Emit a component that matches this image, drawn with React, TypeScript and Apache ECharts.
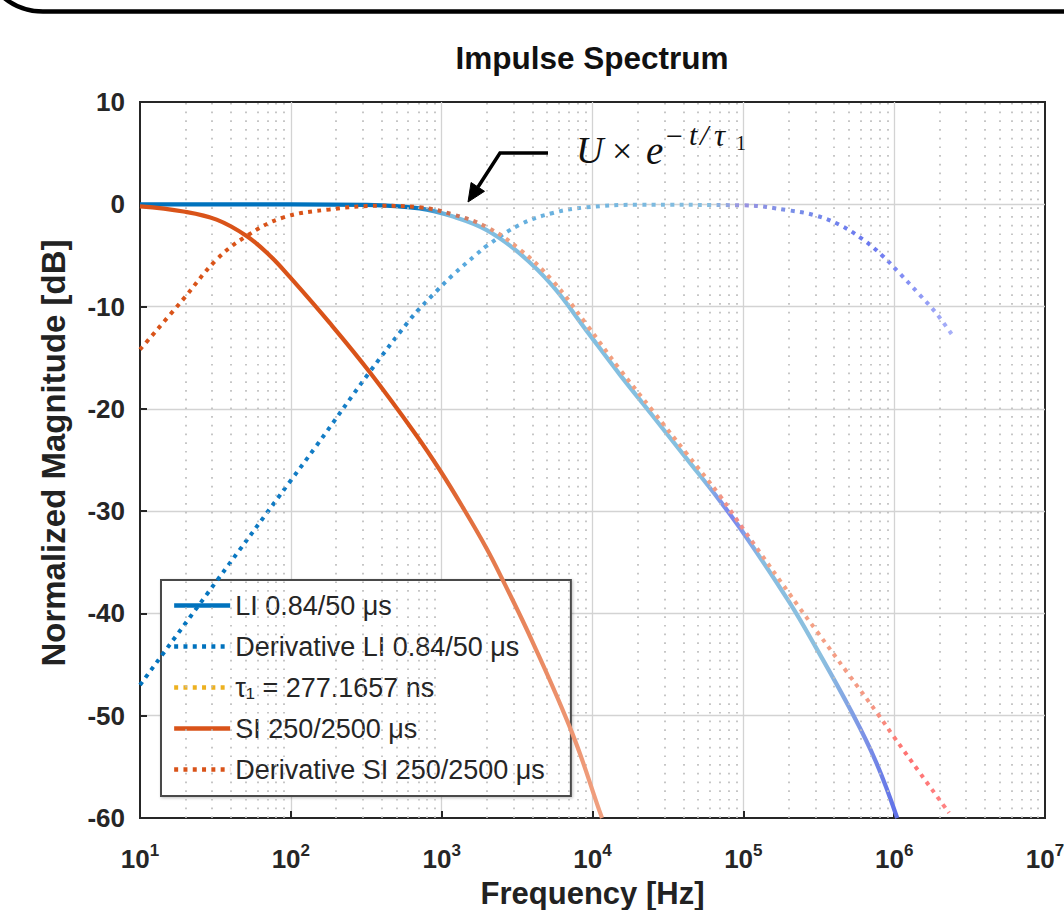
import React, { useEffect, useRef } from "react";
import * as echarts from "echarts";

// ---------- data ----------
const liFreq = [10, 100, 320, 714, 1189, 1977, 3289, 5458, 9078, 15100, 25120, 41690, 69180, 104200, 201800, 302000, 516400, 756800, 1047000];
const liMag = [0, 0, -0.05, -0.4, -1.2, -2.5, -4.8, -8.0, -12.3, -16.6, -20.7, -24.8, -28.9, -32.5, -38.9, -43.3, -49.5, -54.5, -60];

const dLiFreq = [10, 31.6, 100, 148, 333, 614, 714, 923, 1189, 1698, 1977, 3289, 5458, 9078, 19950, 100000, 201800, 302000, 432500, 616600, 831800, 1079000, 1466000, 1888000, 2432000];
const dLiMag = [-47, -37, -27, -23.6, -16.4, -11.3, -10.2, -8.5, -6.9, -4.9, -4.1, -2.0, -0.85, -0.3, -0.05, -0.1, -0.6, -1.1, -2.0, -3.4, -5.0, -6.7, -8.8, -10.6, -12.8];

const tauFreq = [10, 1000, 100000];
const tauMag = [0, 0, 0];

const siFreq = [10, 19.4, 32.2, 50.9, 72.4, 98.4, 181, 333, 681, 984, 1377, 1977, 2495, 3981, 7379, 11120, 11560];
const siMag = [-0.2, -0.7, -1.5, -3.1, -5.0, -7.1, -11.6, -16.4, -22.6, -26.1, -29.6, -33.6, -36.5, -42.7, -51.8, -59.3, -60];

const dSiFreq = [10, 19.3, 32.2, 50.9, 88.5, 181, 389, 714, 1189, 1977, 3289, 5458, 9078, 15100, 25120, 41690, 69180, 101600, 234400, 302000, 489800, 794300, 977200, 1466000, 1778000, 2312000];
const dSiMag = [-14.2, -9.3, -5.4, -3.1, -1.3, -0.5, -0.15, -0.3, -1.0, -2.2, -4.4, -7.5, -11.7, -16.1, -20.2, -24.3, -28.4, -31.9, -39.4, -41.6, -45.8, -50.0, -51.9, -55.5, -57.2, -59.5];

const seriesNames = [
  "LI 0.84/50 μs",
  "Derivative LI 0.84/50 μs",
  "τ₁ = 277.1657 ns",
  "SI 250/2500 μs",
  "Derivative SI 250/2500 μs",
];

const yMin = -60;
const yMax = 10;
const yStep = 10;
const xMin = 10;
const xMax = 1e7;

// ---------- styling ----------
const SANS = "'Liberation Sans', Arial, Helvetica, sans-serif";
const SERIF = "'Liberation Serif', 'Times New Roman', serif";
const DOT: number[] = [4, 5.3];
const SMOOTH = 0.4;

const pairs = (f: number[], m: number[]) => f.map((v, i) => [v, m[i]]);
const grad = (stops: [number, string][]) =>
  new echarts.graphic.LinearGradient(0, 0, 1, 0, stops.map(([offset, color]) => ({ offset, color })));

function minorGridValues(): number[] {
  const out: number[] = [];
  for (let d = 10; d < xMax; d *= 10) {
    for (let k = 2; k <= 9; k++) out.push(k * d);
  }
  return out;
}

const hiddenSymbol = { color: "rgba(0,0,0,0)", opacity: 0, borderWidth: 0 };

export default function App() {
  const ref = useRef<HTMLDivElement>(null);

  useEffect(() => {
    document.body.style.margin = "0";
    const chart = echarts.init(ref.current!, null, { renderer: "svg" });

    const mathText = (text: string, x: number, y: number, font: string) => ({
      type: "text",
      z: 100,
      x,
      y,
      style: { text, font, fill: "#111", align: "left", verticalAlign: "middle" },
    });

    const option: any = {
      animation: false,
      backgroundColor: "#ffffff",
      title: {
        text: "Impulse Spectrum",
        left: 592,
        textAlign: "center",
        top: 42,
        padding: 0,
        textStyle: { fontFamily: SANS, fontSize: 31.5, fontWeight: "bold", color: "#111" },
      },
      grid: {
        left: 140,
        right: 19,
        top: 102,
        bottom: 92,
        outerBoundsMode: "none",
        containLabel: false,
        show: true,
        borderColor: "#262626",
        borderWidth: 2,
        backgroundColor: "transparent",
      },
      legend: {
        orient: "vertical",
        left: 161,
        top: 580,
        padding: [12, 26, 13, 11],
        itemWidth: 56,
        itemHeight: 27,
        itemGap: 14,
        selectedMode: false,
        backgroundColor: "#ffffff",
        borderColor: "#4a4a4a",
        borderWidth: 2,
        shadowColor: "rgba(0,0,0,0.25)",
        shadowBlur: 3,
        shadowOffsetX: 1,
        shadowOffsetY: 1,
        textStyle: { fontFamily: SANS, fontSize: 27, color: "#262626", lineHeight: 27 },
        data: [
          { name: seriesNames[0], itemStyle: hiddenSymbol, lineStyle: { color: "#0072BD", width: 4.3, type: "solid" } },
          { name: seriesNames[1], itemStyle: hiddenSymbol, lineStyle: { color: "#0072BD", width: 4.3, type: DOT } },
          { name: seriesNames[2], itemStyle: hiddenSymbol, lineStyle: { color: "#EDB120", width: 4.3, type: DOT } },
          { name: seriesNames[3], itemStyle: hiddenSymbol, lineStyle: { color: "#D95319", width: 4.3, type: "solid" } },
          { name: seriesNames[4], itemStyle: hiddenSymbol, lineStyle: { color: "#D95319", width: 4.3, type: DOT } },
        ],
      },
      xAxis: {
        type: "log",
        logBase: 10,
        min: xMin,
        max: xMax,
        axisLine: { show: true, onZero: false, lineStyle: { color: "#262626", width: 2 } },
        axisTick: { show: true, inside: true, length: 7, lineStyle: { color: "#262626", width: 2 } },
        splitLine: { show: true, showMinLine: false, showMaxLine: false, lineStyle: { color: "#d3d3d3", width: 1.3 } },
        axisLabel: {
          margin: 24,
          formatter: (v: number) => `{b|10}{s|${Math.round(Math.log10(v))}}`,
          rich: {
            b: { fontFamily: SANS, fontSize: 26, fontWeight: "bold", color: "#262626", lineHeight: 30, verticalAlign: "bottom" },
            s: { fontFamily: SANS, fontSize: 17, fontWeight: "bold", color: "#262626", lineHeight: 17, verticalAlign: "top" },
          },
        },
        name: "Frequency [Hz]",
        nameLocation: "middle",
        nameGap: 59,
        nameTextStyle: { fontFamily: SANS, fontSize: 31, fontWeight: "bold", color: "#222", lineHeight: 32 },
      },
      yAxis: {
        type: "value",
        min: yMin,
        max: yMax,
        interval: yStep,
        axisLine: { show: true, lineStyle: { color: "#262626", width: 2 } },
        axisTick: { show: true, inside: true, length: 7, lineStyle: { color: "#262626", width: 2 } },
        splitLine: { show: true, showMinLine: false, showMaxLine: false, lineStyle: { color: "#d3d3d3", width: 1.3 } },
        axisLabel: { margin: 15, fontFamily: SANS, fontSize: 26, fontWeight: "bold", color: "#262626" },
        name: "Normalized Magnitude [dB]",
        nameLocation: "middle",
        nameRotate: 90,
        nameGap: 70,
        nameTextStyle: { fontFamily: SANS, fontSize: 33, fontWeight: "bold", color: "#222", padding: [0, 0, 0, 14] },
      },
      series: [
        {
          name: "minor-grid",
          type: "line",
          data: [],
          z: 1,
          silent: true,
          markLine: {
            silent: true,
            symbol: "none",
            label: { show: false },
            lineStyle: { type: [1.7, 7], width: 1.7, color: "#bdbdbd" },
            data: minorGridValues().map((v) => ({ xAxis: v })),
          },
        },
        {
          name: seriesNames[0],
          type: "line",
          data: pairs(liFreq, liMag),
          showSymbol: false,
          symbol: "none",
          smooth: SMOOTH,
          z: 3,
          lineStyle: {
            width: 4.3,
            type: "solid",
            color: grad([
              [0, "#0072BD"],
              [0.36, "#0072BD"],
              [0.41, "#7fbde0"],
              [0.74, "#86c0e0"],
              [0.78, "#7b84ee"],
              [0.82, "#88bde0"],
              [0.9, "#8cc0df"],
              [0.96, "#7b8fe6"],
              [1, "#5f70e8"],
            ]),
          },
        },
        {
          name: seriesNames[1],
          type: "line",
          data: pairs(dLiFreq, dLiMag),
          showSymbol: false,
          symbol: "none",
          smooth: SMOOTH,
          z: 4,
          lineStyle: {
            width: 4,
            type: DOT,
            color: grad([
              [0, "#0072BD"],
              [0.3, "#1a80c8"],
              [0.4, "#5aaade"],
              [0.7, "#88bfe0"],
              [0.74, "#9a92e0"],
              [0.8, "#7a90e8"],
              [0.9, "#6b78f0"],
              [1, "#a8b0f8"],
            ]),
          },
        },
        {
          name: seriesNames[2],
          type: "line",
          data: pairs(tauFreq, tauMag),
          showSymbol: false,
          symbol: "none",
          z: 5,
          lineStyle: {
            width: 4,
            type: DOT,
            color: grad([
              [0, "#EDB120"],
              [0.5, "#f0c050"],
              [1, "#f3d080"],
            ]),
          },
        },
        {
          name: seriesNames[3],
          type: "line",
          data: pairs(siFreq, siMag),
          showSymbol: false,
          symbol: "none",
          smooth: SMOOTH,
          z: 6,
          lineStyle: {
            width: 4.2,
            type: "solid",
            color: grad([
              [0, "#D95319"],
              [0.6, "#D95319"],
              [0.75, "#e4784a"],
              [1, "#f0a080"],
            ]),
          },
        },
        {
          name: seriesNames[4],
          type: "line",
          data: pairs(dSiFreq, dSiMag),
          showSymbol: false,
          symbol: "none",
          smooth: SMOOTH,
          z: 7,
          lineStyle: {
            width: 4,
            type: DOT,
            color: grad([
              [0, "#D95319"],
              [0.34, "#D95319"],
              [0.39, "#c87058"],
              [0.45, "#f0a080"],
              [0.7, "#f4a080"],
              [0.74, "#f08a8a"],
              [0.78, "#f4a585"],
              [0.9, "#f49a85"],
              [0.95, "#ff7070"],
              [1, "#ff8585"],
            ]),
          },
        },
      ],
      graphic: [
        {
          type: "rect",
          z: 100,
          shape: { x: -19, y: -300, width: 1200, height: 311.5, r: 62 },
          style: { fill: "none", stroke: "#000", lineWidth: 4.5 },
        },
        {
          type: "polyline",
          z: 100,
          shape: { points: [[548, 153], [500, 153], [478, 187]] },
          style: { stroke: "#000", lineWidth: 3.5, fill: "none" },
        },
        {
          type: "polygon",
          z: 100,
          shape: { points: [[468, 202], [484.5, 191.3], [471.1, 182.5]] },
          style: { fill: "#000", stroke: "#000", lineWidth: 1 },
        },
        mathText("U", 576, 150, `italic 38px ${SERIF}`),
        mathText("×", 612, 151, `36px ${SERIF}`),
        mathText("e", 646, 150, `italic 39px ${SERIF}`),
        mathText("−", 666, 135, `30px ${SERIF}`),
        mathText("t", 689, 134, `italic 30px ${SERIF}`),
        mathText("/", 700, 134, `italic 30px ${SERIF}`),
        mathText("τ", 714, 135, `italic 31px ${SERIF}`),
        mathText("1", 736, 143, `20px ${SERIF}`),
      ],
    };

    chart.setOption(option);
    return () => chart.dispose();
  }, []);

  return <div ref={ref} style={{ width: 1064, height: 910 }} />;
}
